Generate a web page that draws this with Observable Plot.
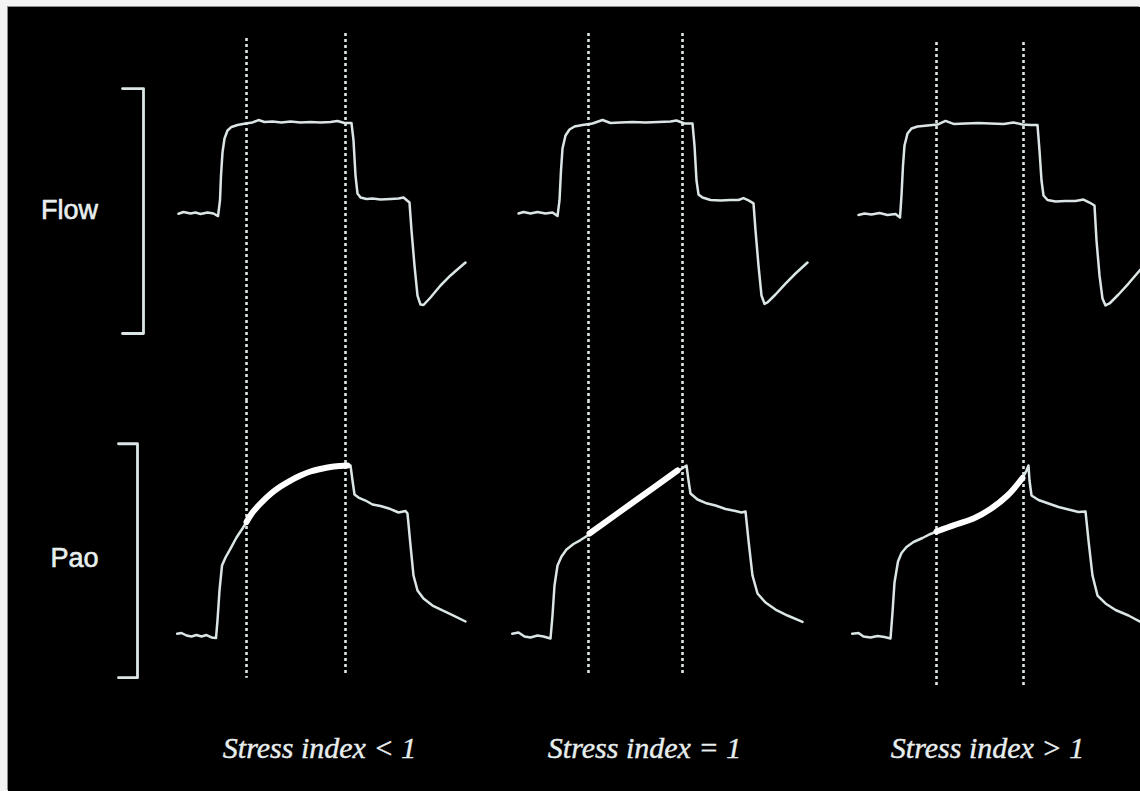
<!DOCTYPE html>
<html>
<head>
<meta charset="utf-8">
<script src="https://cdn.jsdelivr.net/npm/d3@7"></script>
<script src="https://cdn.jsdelivr.net/npm/@observablehq/plot@0.6"></script>
<style>
  html, body { margin: 0; padding: 0; background: #f3f3f3; }
  #box { position: absolute; left: 8px; top: 7px; width: 1132px; height: 784px; background: #000;
         box-shadow: -1px -1px 0 #8c8c8c; overflow: hidden; }
  #box svg { display: block; }
</style>
</head>
<body>
<div id="box"></div>
<script>
// ---- Data (time in s, flow in L/min, airway pressure Pao in cmH2O) ----
const panels = ["SI<1", "SI=1", "SI>1"];

const flow1 = [[1.70,-0.2],[1.75,1.0],[1.82,0],[1.87,0.7],[1.92,-0.3],[1.99,0.7],[2.05,0],[2.095,-1.7],[2.115,8.7],[2.125,25.3],[2.14,40.7],[2.16,50],[2.19,55.3],[2.23,57.7],[2.29,59],[2.37,60],[2.44,60.7],[2.50,62.3],[2.56,61],[2.64,61.3],[2.73,60.7],[2.82,61.3],[2.92,60.7],[3.02,61],[3.12,60.7],[3.22,61],[3.29,61.7],[3.36,60.3],[3.43,60.3],[3.45,48.7],[3.47,25.3],[3.49,13.3],[3.52,10.7],[3.58,9.7],[3.64,10],[3.72,9.3],[3.82,9.7],[3.90,10],[3.95,10.7],[4.01,7.3],[4.03,-11.3],[4.06,-34.7],[4.09,-54.7],[4.12,-60.7],[4.15,-61],[4.22,-56],[4.32,-48],[4.42,-41.3],[4.50,-36.7],[4.57,-32.7]];
const flow2 = [[5.10,0],[5.15,1.0],[5.22,0],[5.29,1.0],[5.37,0],[5.44,0.7],[5.49,-1.7],[5.51,8.7],[5.525,28.7],[5.54,43.3],[5.57,52],[5.61,56],[5.66,58],[5.74,59],[5.84,60],[5.94,62.3],[6.02,60.3],[6.12,60.7],[6.24,61],[6.37,60.7],[6.50,61],[6.62,61.3],[6.68,62],[6.76,60],[6.84,60],[6.86,45.3],[6.88,22],[6.90,12.7],[6.94,10.7],[7.02,9],[7.12,8.7],[7.22,9],[7.30,9],[7.35,10.3],[7.40,8.7],[7.45,6.7],[7.47,-11.3],[7.50,-34.7],[7.53,-54.7],[7.56,-60.3],[7.59,-59.3],[7.67,-54],[7.77,-46.7],[7.87,-40],[7.99,-32.7]];
const flow3 = [[8.50,-1.0],[8.56,0],[8.63,-0.7],[8.71,0.3],[8.79,-1.0],[8.87,-0.3],[8.915,-2.7],[8.93,12],[8.945,32],[8.96,45.3],[8.99,53.3],[9.03,56.7],[9.09,58],[9.19,58.7],[9.29,59.3],[9.37,61.7],[9.45,59.7],[9.57,60],[9.70,60.3],[9.82,60],[9.95,59.7],[10.05,60.7],[10.14,59.3],[10.22,59],[10.29,59],[10.31,42],[10.33,22],[10.35,12],[10.39,9],[10.47,8],[10.57,8.3],[10.67,8.3],[10.75,9.3],[10.81,7.3],[10.86,5.3],[10.88,-18],[10.91,-41.3],[10.94,-56.7],[10.97,-61.3],[11.01,-60],[11.10,-54],[11.20,-46.7],[11.32,-37.3]];

const pao1 = [[1.687,5.25],[1.73,5.37],[1.78,5.0],[1.83,4.85],[1.88,5.07],[1.93,4.85],[1.98,5.07],[2.03,4.71],[2.075,4.63],[2.09,7.21],[2.11,11.62],[2.135,15.29],[2.17,16.47],[2.22,17.79],[2.28,19.41],[2.34,20.74],[2.38,21.69],[2.44,23.09],[2.52,24.41],[2.62,25.81],[2.72,26.91],[2.82,27.79],[2.92,28.53],[3.02,29.12],[3.12,29.49],[3.22,29.78],[3.32,29.93],[3.39,30.0],[3.42,30.0],[3.44,27.79],[3.46,25.74],[3.50,25.29],[3.57,24.85],[3.64,24.26],[3.72,24.04],[3.82,23.6],[3.90,23.09],[3.97,23.31],[3.99,22.94],[4.02,18.24],[4.05,13.82],[4.09,11.62],[4.15,10.44],[4.24,9.41],[4.34,8.68],[4.44,8.01],[4.57,7.06]];
const pao2 = [[5.037,5.25],[5.10,5.44],[5.16,4.85],[5.22,4.71],[5.29,5.0],[5.35,4.85],[5.42,4.56],[5.44,7.94],[5.46,12.35],[5.49,15.29],[5.53,16.62],[5.58,17.65],[5.65,18.46],[5.72,19.04],[5.80,19.78],[5.81,20.0],[6.25,24.63],[6.69,29.26],[6.72,29.41],[6.78,30.0],[6.80,27.79],[6.82,25.88],[6.89,25.0],[6.97,24.49],[7.07,24.12],[7.17,23.6],[7.27,23.31],[7.33,23.09],[7.37,23.24],[7.40,18.97],[7.44,13.82],[7.49,11.18],[7.57,9.85],[7.67,8.82],[7.79,7.94],[7.94,6.99]];
const pao3 = [[8.437,5.25],[8.50,5.37],[8.55,4.85],[8.62,4.71],[8.69,4.93],[8.76,4.78],[8.82,4.56],[8.84,8.38],[8.86,12.79],[8.895,15.88],[8.93,17.13],[8.98,18.01],[9.05,18.75],[9.14,19.34],[9.22,19.93],[9.28,20.29],[9.39,20.88],[9.49,21.4],[9.65,22.21],[9.82,23.6],[9.99,25.59],[10.14,28.16],[10.18,29.26],[10.20,30.0],[10.21,27.79],[10.23,25.59],[10.30,24.93],[10.40,24.41],[10.50,23.9],[10.60,23.53],[10.70,23.16],[10.77,23.24],[10.80,18.97],[10.84,13.82],[10.89,10.88],[10.97,9.71],[11.07,8.75],[11.20,7.94],[11.32,6.99]];

// inspiratory "stress index" window (constant-flow segment) per panel, in s
const windowStart = [2.38, 5.81, 9.28];
const windowEnd   = [3.39, 6.69, 10.14];

// dashed cursor lines: time, top extent (flow units), bottom extent (Pao units)
const cursorTimes  = [2.38, 3.37, 5.80, 6.74, 9.28, 10.15];
const cursorTop    = [116.7, 120, 120, 120, 114, 114];
const cursorBottom = [-1.3, -0.9, -0.6, -0.9, -2.4, -2.4];

// signal range brackets
const flowBracketT = [1.14, 1.35];
const flowBracketRange = [-80, 83.3];
const paoBracketT = [1.10, 1.29];
const paoBracketRange = [-1.2, 33.2];

const signalLabels = ["Flow", "Pao"];
const signalLabelT = [0.61, 0.66];
const signalLabelV = [2, 16.3];

const stressLabels = ["Stress index < 1", "Stress index = 1", "Stress index > 1"];
const stressLabelT = [3.11, 6.36, 9.79];
const stressLabelV = -11.6;

// ---- Build tables ----
const toRows = (arr, panel) => arr.map(([t, v]) => ({t, v, panel}));
const flowRows = [flow1, flow2, flow3].flatMap((a, i) => toRows(a, panels[i]));
const paoSeries = [pao1, pao2, pao3];
const paoRows = paoSeries.flatMap((a, i) => toRows(a, panels[i]));
const paoBold = paoSeries.flatMap((a, i) =>
  toRows(a.filter(([t]) => t >= windowStart[i] - 1e-9 && t <= windowEnd[i] + 1e-9), panels[i]));
const cursors = cursorTimes.map((t, i) => ({t, top: cursorTop[i], bottom: cursorBottom[i]}));

const bracket = (T, R) => [
  {t: T[0], v: R[1]}, {t: T[1], v: R[1]}, {t: T[1], v: R[0]}, {t: T[0], v: R[0]}
];

const X = {domain: [0, 11.32], axis: null};
const FLOW_DOMAIN = [-124.67, 137.33];
const PAO_DOMAIN = [-17.94, 39.56];
const traceColor = "#dbe5e5";
const textColor = "#e8eeee";
const dash = "3,3";

const flowChart = Plot.plot({
  width: 1132, height: 393, margin: 0,
  x: X,
  y: {domain: FLOW_DOMAIN, axis: null},
  style: {background: "#000", overflow: "visible"},
  marks: [
    Plot.ruleX(cursors, {x: "t", y1: "top", y2: () => FLOW_DOMAIN[0], stroke: traceColor, strokeWidth: 2.6, strokeDasharray: dash}),
    Plot.line(flowRows, {x: "t", y: "v", z: "panel", stroke: traceColor, strokeWidth: 2.5, strokeLinejoin: "round", curve: "linear"}),
    Plot.line(bracket(flowBracketT, flowBracketRange), {x: "t", y: "v", stroke: traceColor, strokeWidth: 2.8}),
    Plot.text([0], {x: () => signalLabelT[0], y: () => signalLabelV[0], text: () => signalLabels[0],
      fill: textColor, stroke: textColor, strokeWidth: 0.6, fontSize: 27, fontFamily: "Liberation Sans, Arial, sans-serif", textAnchor: "middle"})
  ]
});

const paoChart = Plot.plot({
  width: 1132, height: 391, margin: 0,
  x: X,
  y: {domain: PAO_DOMAIN, axis: null},
  style: {background: "#000", overflow: "visible"},
  marks: [
    Plot.ruleX(cursors, {x: "t", y1: () => PAO_DOMAIN[1], y2: "bottom", stroke: traceColor, strokeWidth: 2.6, strokeDasharray: dash}),
    Plot.line(paoRows, {x: "t", y: "v", z: "panel", stroke: traceColor, strokeWidth: 2.5, strokeLinejoin: "round", curve: "linear"}),
    Plot.line(paoBold, {x: "t", y: "v", z: "panel", stroke: "#ffffff", strokeWidth: 6, strokeLinecap: "round", curve: "catmull-rom"}),
    Plot.line(bracket(paoBracketT, paoBracketRange), {x: "t", y: "v", stroke: traceColor, strokeWidth: 2.8}),
    Plot.text([0], {x: () => signalLabelT[1], y: () => signalLabelV[1], text: () => signalLabels[1],
      fill: textColor, stroke: textColor, strokeWidth: 0.6, fontSize: 27, fontFamily: "Liberation Sans, Arial, sans-serif", textAnchor: "middle"}),
    Plot.text(stressLabels, {x: (d, i) => stressLabelT[i], y: () => stressLabelV, text: d => d,
      fill: textColor, stroke: textColor, strokeWidth: 0.4, fontSize: 30, fontStyle: "italic", fontFamily: "Liberation Serif, Times New Roman, serif", textAnchor: "middle"})
  ]
});

const box = document.getElementById("box");
box.appendChild(flowChart);
box.appendChild(paoChart);
</script>
</body>
</html>
